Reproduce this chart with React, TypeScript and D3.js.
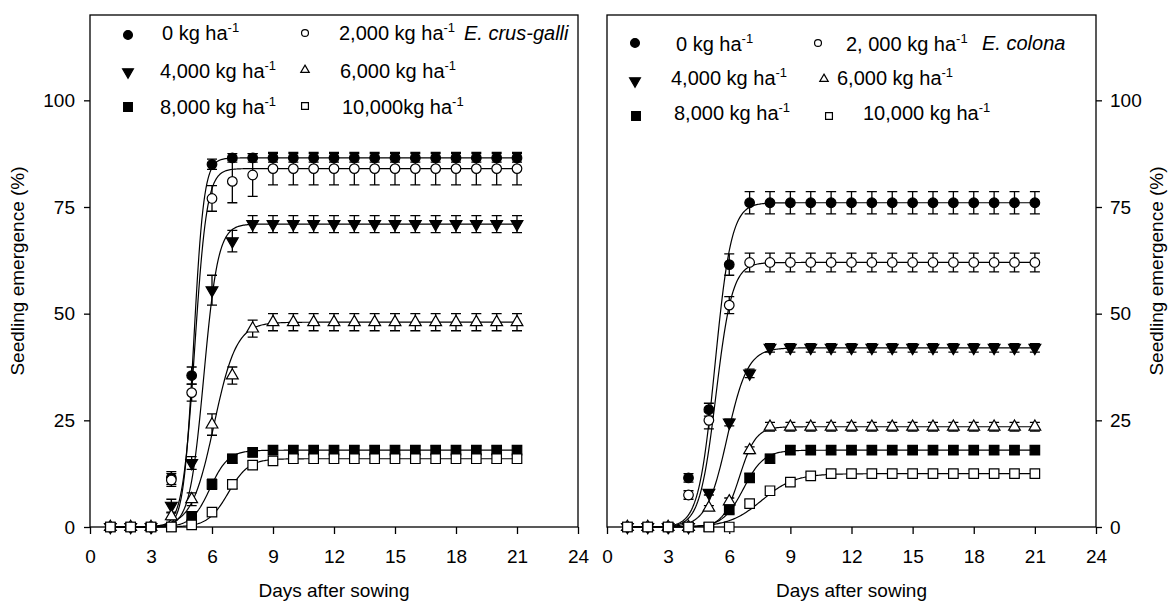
import React, { useEffect, useRef } from 'react';
import * as d3 from 'd3';

// days after sowing (x values of every series)
const days = [1, 2, 3, 4, 5, 6, 7, 8, 9, 10, 11, 12, 13, 14, 15, 16, 17, 18, 19, 20, 21];

const crusGalliLabels = ['0 kg ha', '2,000 kg ha', '4,000 kg ha', '6,000 kg ha', '8,000 kg ha', '10,000kg ha'];
const colonaLabels = ['0 kg ha', '2, 000 kg ha', '4,000 kg ha', '6,000 kg ha', '8,000 kg ha', '10,000 kg ha'];
const markerKinds = ['circleFilled', 'circleOpen', 'downFilled', 'upOpen', 'squareFilled', 'squareOpen'];

const xTicks = [0, 3, 6, 9, 12, 15, 18, 21, 24];
const yTicks = [0, 25, 50, 75, 100];

// E. crus-galli: mean emergence (%) and error per dose
const cg0 = [0, 0, 0, 11.5, 35.5, 85, 86.5, 86.5, 86.5, 86.5, 86.5, 86.5, 86.5, 86.5, 86.5, 86.5, 86.5, 86.5, 86.5, 86.5, 86.5];
const cg0Err = [0, 0, 0, 1.5, 2, 1.2, 1, 1, 1, 1, 1, 1, 1, 1, 1, 1, 1, 1, 1, 1, 1];
const cg2 = [0, 0, 0, 11, 31.5, 77, 81, 82.5, 84, 84, 84, 84, 84, 84, 84, 84, 84, 84, 84, 84, 84];
const cg2Err = [0, 0, 0, 1.5, 2, 3, 5, 5, 3.8, 3.8, 3.8, 3.8, 3.8, 3.8, 3.8, 3.8, 3.8, 3.8, 3.8, 3.8, 3.8];
const cg4 = [0, 0, 0, 5, 15, 55.5, 67, 71, 71, 71, 71, 71, 71, 71, 71, 71, 71, 71, 71, 71, 71];
const cg4Err = [0, 0, 0, 1.5, 1.5, 3.5, 2.5, 2, 2, 2, 2, 2, 2, 2, 2, 2, 2, 2, 2, 2, 2];
const cg6 = [0, 0, 0, 2.5, 6.5, 24, 35.5, 46.5, 48, 48, 48, 48, 48, 48, 48, 48, 48, 48, 48, 48, 48];
const cg6Err = [0, 0, 0, 0.8, 1.5, 2.5, 2, 2, 2, 2, 2, 2, 2, 2, 2, 2, 2, 2, 2, 2, 2];
const cg8 = [0, 0, 0, 0, 2.5, 10, 16, 17.5, 18, 18, 18, 18, 18, 18, 18, 18, 18, 18, 18, 18, 18];
const cg8Err = [0, 0, 0, 0, 1, 1.2, 1, 1, 1, 1, 1, 1, 1, 1, 1, 1, 1, 1, 1, 1, 1];
const cg10 = [0, 0, 0, 0, 0.5, 3.5, 10, 14.5, 15.5, 16, 16, 16, 16, 16, 16, 16, 16, 16, 16, 16, 16];
const cg10Err = [0, 0, 0, 0, 0.5, 1, 1, 1, 1, 1, 1, 1, 1, 1, 1, 1, 1, 1, 1, 1, 1];

// E. colona
const co0 = [0, 0, 0, 11.5, 27.5, 61.5, 76, 76, 76, 76, 76, 76, 76, 76, 76, 76, 76, 76, 76, 76, 76];
const co0Err = [0, 0, 0, 1, 1.5, 2.5, 2.6, 2.6, 2.6, 2.6, 2.6, 2.6, 2.6, 2.6, 2.6, 2.6, 2.6, 2.6, 2.6, 2.6, 2.6];
const co2 = [0, 0, 0, 7.5, 25, 52, 62, 62, 62, 62, 62, 62, 62, 62, 62, 62, 62, 62, 62, 62, 62];
const co2Err = [0, 0, 0, 1, 2, 2, 2.2, 2.2, 2.2, 2.2, 2.2, 2.2, 2.2, 2.2, 2.2, 2.2, 2.2, 2.2, 2.2, 2.2, 2.2];
const co4 = [0, 0, 0, 0, 8, 24.5, 36, 42, 42, 42, 42, 42, 42, 42, 42, 42, 42, 42, 42, 42, 42];
const co4Err = [0, 0, 0, 0, 0.5, 0.8, 1, 1, 1, 1, 1, 1, 1, 1, 1, 1, 1, 1, 1, 1, 1];
const co6 = [0, 0, 0, 0, 4.5, 6, 18, 23.5, 23.5, 23.5, 23.5, 23.5, 23.5, 23.5, 23.5, 23.5, 23.5, 23.5, 23.5, 23.5, 23.5];
const co6Err = [0, 0, 0, 0, 0.5, 0.8, 0.8, 1, 1, 1, 1, 1, 1, 1, 1, 1, 1, 1, 1, 1, 1];
const co8 = [0, 0, 0, 0, 0, 4, 11.5, 16, 18, 18, 18, 18, 18, 18, 18, 18, 18, 18, 18, 18, 18];
const co8Err = [0, 0, 0, 0, 0, 0.8, 1, 1, 1, 1, 1, 1, 1, 1, 1, 1, 1, 1, 1, 1, 1];
const co10 = [0, 0, 0, 0, 0, 0, 5.5, 8.5, 10.5, 12, 12.5, 12.5, 12.5, 12.5, 12.5, 12.5, 12.5, 12.5, 12.5, 12.5, 12.5];
const co10Err = [0, 0, 0, 0, 0, 0, 0.8, 0.8, 0.8, 0.8, 0.8, 0.8, 0.8, 0.8, 0.8, 0.8, 0.8, 0.8, 0.8, 0.8, 0.8];

// fitted sigmoid parameters [max, x50, slope]
const crusGalliFit = [[86.5, 5.1, 0.25], [84, 5.15, 0.3], [71, 5.6, 0.35], [48, 6.1, 0.55], [18, 5.9, 0.45], [16, 6.8, 0.5]];
const colonaFit = [[76, 5.3, 0.4], [62, 5.35, 0.4], [42, 5.9, 0.5], [23.5, 6.5, 0.4], [18, 6.7, 0.5], [12.5, 7.6, 0.8]];

const FONT = '"Liberation Sans", Arial, sans-serif';

function drawMarker(g: any, kind: string, cx: number, cy: number, k = 1) {
  const filled = kind.endsWith('Filled');
  let type: any = d3.symbolCircle;
  let size = Math.PI * 4.8 * 4.8;
  let rot = 0;
  if (kind.startsWith('square')) {
    type = d3.symbolSquare;
    size = 9.5 * 9.5;
  } else if (kind.startsWith('down') || kind.startsWith('up')) {
    type = d3.symbolTriangle;
    size = 60;
    rot = kind.startsWith('down') ? 180 : 0;
  }
  g.append('path')
    .attr('d', d3.symbol().type(type).size(size * k * k)())
    .attr('transform', `translate(${cx},${cy}) rotate(${rot})`)
    .attr('fill', filled ? '#000' : '#fff')
    .attr('stroke', '#000')
    .attr('stroke-width', 1.2);
}

function addLabel(g: any, x: number, y: number, label: string) {
  const t = g.append('text').attr('x', x).attr('y', y).attr('font-size', 20).attr('font-family', FONT);
  t.append('tspan').text(label);
  t.append('tspan').attr('font-size', 13).attr('dy', -8).text('-1');
}

const App: React.FC = () => {
  const ref = useRef<SVGSVGElement | null>(null);

  useEffect(() => {
    if (!ref.current) return;
    const svg = d3.select(ref.current);
    svg.selectAll('*').remove();

    const y = d3.scaleLinear().domain([0, 120]).range([527, 15]);

    const panels = [
      {
        left: 90, right: 578, side: 'left', labels: crusGalliLabels, fit: crusGalliFit,
        values: [cg0, cg2, cg4, cg6, cg8, cg10], errors: [cg0Err, cg2Err, cg4Err, cg6Err, cg8Err, cg10Err],
        species: 'E. crus-galli', speciesX: 464, speciesY: 40,
        legend: [
          [128, 35, 162, 40], [305, 33, 339, 40],
          [128, 72, 160, 78], [305, 70, 340, 78],
          [128, 107, 160, 114], [305, 106, 342, 114],
        ],
        yTitleX: 24,
      },
      {
        left: 607, right: 1096, side: 'right', labels: colonaLabels, fit: colonaFit,
        values: [co0, co2, co4, co6, co8, co10], errors: [co0Err, co2Err, co4Err, co6Err, co8Err, co10Err],
        species: 'E. colona', speciesX: 982, speciesY: 50,
        legend: [
          [635, 43, 676, 51], [818, 43, 846, 51],
          [635, 81, 671, 85], [824, 79, 837, 85],
          [636, 116, 674, 120], [829, 116, 863, 120],
        ],
        yTitleX: 1163,
      },
    ];

    panels.forEach((p) => {
      const x = d3.scaleLinear().domain([0, 24]).range([p.left, p.right]);
      const g = svg.append('g');

      // axes
      const xAxis = g.append('g').attr('transform', `translate(0,${y(0)})`)
        .call(d3.axisBottom(x).tickValues(xTicks).tickSize(7).tickSizeOuter(0).tickPadding(16));
      const yAxis = p.side === 'left'
        ? g.append('g').attr('transform', `translate(${p.left},0)`)
          .call(d3.axisLeft(y).tickValues(yTicks).tickSize(6).tickSizeOuter(0).tickPadding(9))
        : g.append('g').attr('transform', `translate(${p.right},0)`)
          .call(d3.axisRight(y).tickValues(yTicks).tickSize(6).tickSizeOuter(0).tickPadding(8));
      [xAxis, yAxis].forEach((a) => {
        a.select('.domain').remove();
        a.selectAll('line').attr('stroke', '#000').attr('stroke-width', 1.3);
        a.selectAll('text').attr('font-size', 19).attr('font-family', FONT).attr('fill', '#000');
      });

      // frame
      g.append('rect')
        .attr('x', p.left).attr('y', y(120))
        .attr('width', p.right - p.left).attr('height', y(0) - y(120))
        .attr('fill', 'none').attr('stroke', '#000').attr('stroke-width', 1.3);

      // titles
      g.append('text')
        .attr('x', (p.left + p.right) / 2).attr('y', 597)
        .attr('text-anchor', 'middle').attr('font-size', 19).attr('font-family', FONT)
        .text('Days after sowing');
      g.append('text')
        .attr('transform', `translate(${p.yTitleX},271) rotate(-90)`)
        .attr('text-anchor', 'middle').attr('font-size', 19).attr('font-family', FONT)
        .text('Seedling emergence (%)');

      // fitted curves
      const curveX = d3.range(1, 21.001, 0.05);
      const line = d3.line<number[]>().x((d) => x(d[0])).y((d) => y(d[1]));
      p.fit.forEach(([a, x50, b]) => {
        g.append('path')
          .attr('d', line(curveX.map((t) => [t, a / (1 + Math.exp(-(t - x50) / b))])))
          .attr('fill', 'none').attr('stroke', '#000').attr('stroke-width', 1.2);
      });

      // error bars
      p.values.forEach((vals, si) => {
        vals.forEach((v, i) => {
          const e = p.errors[si][i];
          if (!e) return;
          const cx = x(days[i]);
          g.append('path')
            .attr('d', `M${cx},${y(v - e)}V${y(v + e)}M${cx - 5},${y(v - e)}H${cx + 5}M${cx - 5},${y(v + e)}H${cx + 5}`)
            .attr('fill', 'none').attr('stroke', '#000').attr('stroke-width', 1.3);
        });
      });

      // markers
      p.values.forEach((vals, si) => {
        vals.forEach((v, i) => drawMarker(g, markerKinds[si], x(days[i]), y(v)));
      });

      // legend
      p.legend.forEach(([sx, sy, tx, ty], i) => {
        const open = markerKinds[i].endsWith('Open');
        drawMarker(g, markerKinds[i], sx, sy, open ? 0.72 : 0.92);
        addLabel(g, tx, ty, p.labels[i]);
      });
      g.append('text')
        .attr('x', p.speciesX).attr('y', p.speciesY)
        .attr('font-size', 20).attr('font-style', 'italic').attr('font-family', FONT)
        .text(p.species);
    });
  }, []);

  return (
    <svg
      ref={ref}
      width={1174}
      height={605}
      style={{ position: 'absolute', left: 0, top: 0, background: '#fff' }}
    />
  );
};

export default App;
